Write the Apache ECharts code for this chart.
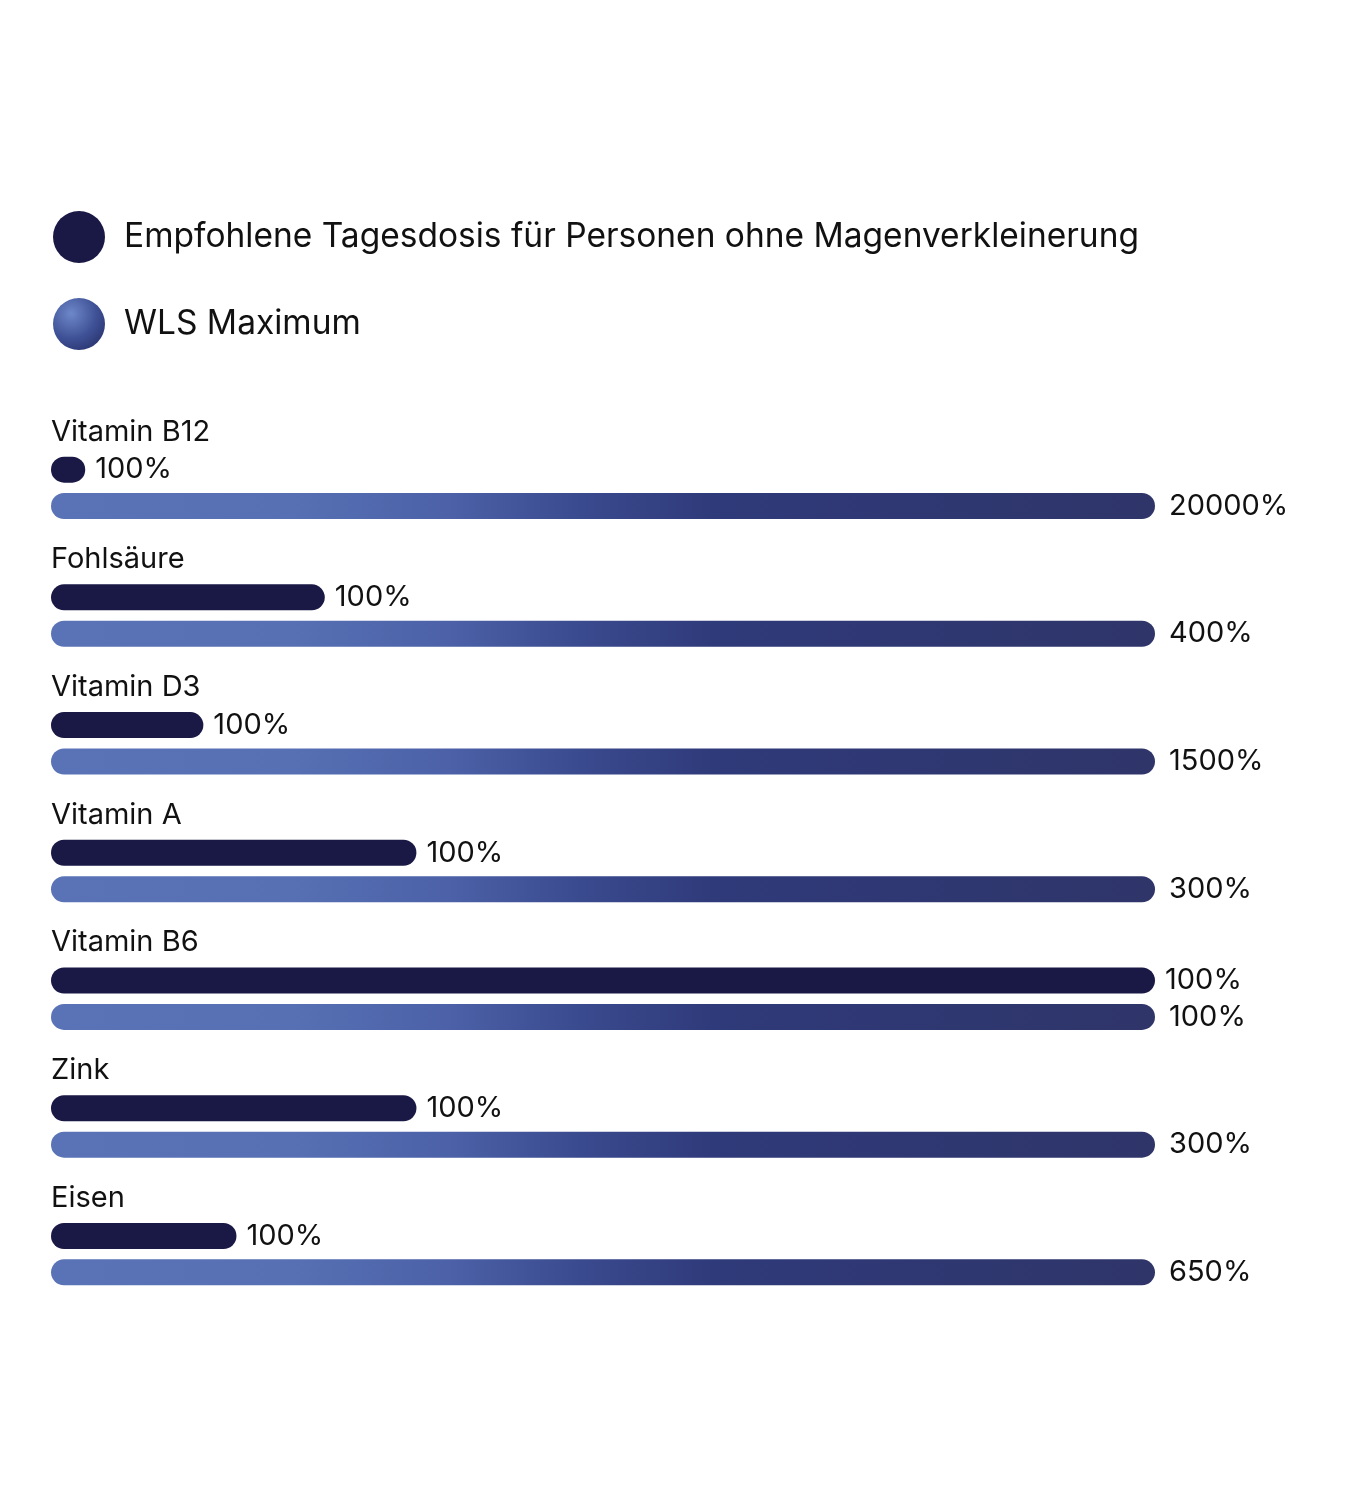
<!DOCTYPE html>
<html>
<head>
<meta charset="utf-8">
<script src="https://cdn.jsdelivr.net/npm/echarts@6/dist/echarts.min.js"></script>
<style>
  html, body { margin: 0; padding: 0; background: #ffffff; }
  #chart { width: 1366px; height: 1500px; }
</style>
</head>
<body>
<div id="chart"></div>
<script>
// Kategorien (von oben nach unten)
var categories = ['Vitamin B12', 'Fohlsäure', 'Vitamin D3', 'Vitamin A', 'Vitamin B6', 'Zink', 'Eisen'];
// Beschriftung: empfohlene Tagesdosis und WLS Maximum in %
var dosePct = [100, 100, 100, 100, 100, 100, 100];
var wlsMaxPct = [20000, 400, 1500, 300, 100, 300, 650];
var doseBar = [3.1, 24.8, 13.8, 33.1, 100, 33.1, 16.8];
var wlsBar = [100, 100, 100, 100, 100, 100, 100];

var chart = echarts.init(document.getElementById('chart'));

var darkColor = '#1a1845';
var wlsGradient = new echarts.graphic.LinearGradient(0, 0, 1, 0, [
	{ offset: 0, color: '#5a73b6' },
	{ offset: 0.22, color: '#5670b3' },
	{ offset: 0.36, color: '#4c61a8' },
	{ offset: 0.48, color: '#3a4a8e' },
	{ offset: 0.6, color: '#2f3a7a' },
	{ offset: 1, color: '#2f3569' }
]);

var labelStyle = {
	show: true,
	position: 'right',
	distance: 12,
	color: '#111111',
	fontSize: 29,
	fontFamily: 'Inter'
};

var option = {
	backgroundColor: '#ffffff',
	animation: false,
	legend: {
		orient: 'vertical',
		left: 48,
		top: 206,
		itemWidth: 52,
		itemHeight: 52,
		itemGap: 35,
		icon: 'circle',
		textStyle: {
			fontSize: 33.5,
			fontFamily: 'Inter',
			color: '#111111',
			padding: [0, 0, 0, 14]
		},
		data: [{
			name: 'Empfohlene Tagesdosis für Personen ohne Magenverkleinerung',
			itemStyle: { color: darkColor }
		}, {
			name: 'WLS Maximum',
			itemStyle: {
				color: new echarts.graphic.RadialGradient(0.35, 0.3, 0.8, [
					{ offset: 0, color: '#6d88c8' },
					{ offset: 0.6, color: '#3f5196' },
					{ offset: 1, color: '#2a3570' }
				])
			}
		}]
	},
	grid: {
		left: 51,
		right: 211,
		top: 424,
		bottom: 182,
		containLabel: false
	},
	xAxis: {
		type: 'value',
		min: 0,
		max: 100,
		show: false
	},
	yAxis: {
		type: 'category',
		data: categories,
		inverse: true,
		axisLine: { show: false },
		axisTick: { show: false },
		splitLine: { show: false },
		axisLabel: {
			inside: true,
			margin: 0,
			align: 'left',
			verticalAlign: 'middle',
			formatter: function (v) { return '{n|' + v + '}'; },
			rich: {
				n: {
					padding: [0, 0, 112, 0],
					fontSize: 29,
					fontFamily: 'Inter',
					color: '#111111'
				}
			}
		}
	},
	series: [{
		name: 'Empfohlene Tagesdosis für Personen ohne Magenverkleinerung',
		type: 'bar',
		data: doseBar,
		barWidth: 26,
		barGap: '40%',
		itemStyle: { color: darkColor, borderRadius: 13 },
		label: Object.assign({}, labelStyle, {
			distance: 10,
			formatter: function (p) { return dosePct[p.dataIndex] + '%'; }
		})
	}, {
		name: 'WLS Maximum',
		type: 'bar',
		data: wlsBar,
		barWidth: 26,
		itemStyle: { color: wlsGradient, borderRadius: 13 },
		label: Object.assign({}, labelStyle, {
			distance: 14,
			formatter: function (p) { return wlsMaxPct[p.dataIndex] + '%'; }
		})
	}]
};

chart.setOption(option);
</script>
</body>
</html>
